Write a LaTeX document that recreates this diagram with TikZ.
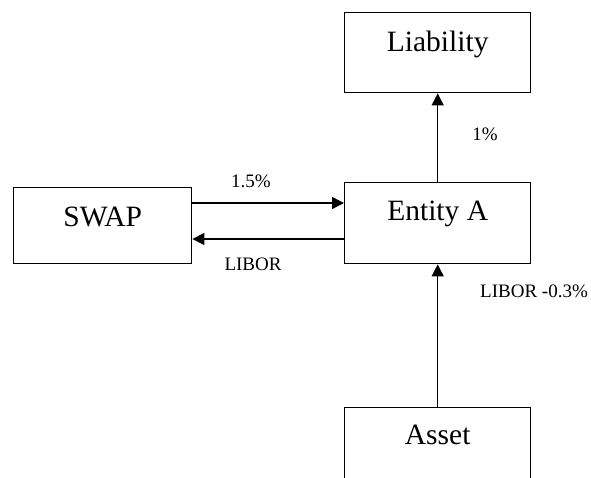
\documentclass[tikz,border=0pt]{standalone}
\usepackage{fontspec}
\setmainfont{Liberation Serif}
\usetikzlibrary{arrows.meta}

\begin{document}
\begin{tikzpicture}[x=1pt,y=-1pt,line width=1.4pt]
\tikzstyle{box}=[draw,anchor=north west,inner sep=0pt,minimum width=186pt,font=\fontsize{29.5}{34}\selectfont]
\tikzstyle{flow}=[-{Triangle[length=12pt,width=12pt]}]
\tikzstyle{rate}=[font=\fontsize{19}{22}\selectfont]

\clip (0,0) rectangle (591,478);

\node(liab)[box,text height=39pt,text depth=41pt] at (344,12) {Liability};
\node(entity)[box,text height=38pt,text depth=43pt] at (344,182) {Entity A};
\node(swap)[box,minimum width=178pt,text height=39pt,text depth=37pt] at (13,187) {SWAP};
\node(asset)[box,text height=37pt,text depth=83pt] at (344,407) {Asset};

% swap legs
\coordinate (fix) at ([yshift=-16pt]swap.north east);
\coordinate (flt) at ([yshift=-52pt]swap.north east);
\draw[flow] (fix) -- (fix -| entity.west);
\draw[flow] (flt -| entity.west) -- (flt);

\draw[flow] (entity.north) -- (liab.south);
\draw[flow] (asset.north) -- (entity.south);

\node(r1)[rate] at (251,181) {1.5\%};
\node(r2)[rate] at (253,264) {LIBOR};
\node(r3)[rate] at (485,134) {1\%};
\node(r4)[rate] at (534,291) {LIBOR -0.3\%};
\end{tikzpicture}
\end{document}
